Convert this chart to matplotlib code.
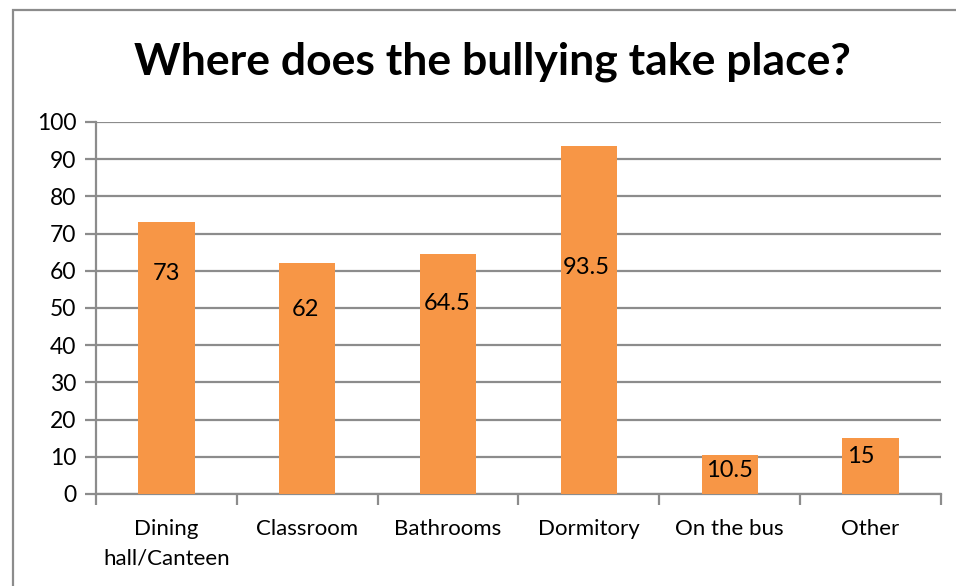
import matplotlib
matplotlib.use("Agg")
import matplotlib.pyplot as plt
from matplotlib.patches import Rectangle

plt.rcParams['font.family'] = ['Lato', 'DejaVu Sans']

categories = ["Dining\nhall/Canteen", "Classroom", "Bathrooms", "Dormitory", "On the bus", "Other"]
values = [73, 62, 64.5, 93.5, 10.5, 15]
value_labels = ["73", "62", "64.5", "93.5", "10.5", "15"]
# where each value label sits (y in data units, x offset from bar centre)
label_y = [59.4, 49.5, 51.3, 60.8, 6.2, 10.0]
label_dx = [0.0, -0.01, -0.01, -0.02, 0.0, -0.07]
yticks = [0, 10, 20, 30, 40, 50, 60, 70, 80, 90, 100]

W, H = 956, 586
fig = plt.figure(figsize=(W / 100, H / 100), dpi=100)

# outer chart frame
fig.patches.append(Rectangle((13 / W, -0.1), 2, 1.1 - 10 / H, transform=fig.transFigure,
                             fill=False, edgecolor='#8c8c8c', linewidth=1.6))

ax = fig.add_axes([96 / W, 1 - 494 / H, (941 - 96) / W, (494 - 122) / H])
x = list(range(len(categories)))
ax.bar(x, values, width=0.4, color='#F79646', zorder=3)

for xi, ly, dx, txt in zip(x, label_y, label_dx, value_labels):
    ax.text(xi + dx, ly, txt, ha='center', va='center', fontsize=17, color='black', zorder=4)

ax.set_xlim(-0.5, len(categories) - 0.5)
ax.set_ylim(0, 100)
ax.set_yticks(yticks)
ax.set_yticklabels([str(t) for t in yticks], fontsize=16.5)
ax.yaxis.grid(True, color='#8c8c8c', linewidth=1.6, zorder=0)
ax.tick_params(axis='y', length=8, width=1.6, color='#8c8c8c', pad=6, direction='out')

ax.set_xticks([i - 0.5 for i in range(len(categories) + 1)])
ax.set_xticklabels([])
ax.set_xticks(x, minor=True)
ax.set_xticklabels(categories, minor=True, fontsize=16, linespacing=1.6)
ax.tick_params(axis='x', which='major', length=8, width=1.6, color='#8c8c8c', direction='out')
ax.tick_params(axis='x', which='minor', length=0, pad=18)

for s in ['top', 'right']:
    ax.spines[s].set_visible(False)
for s in ['left', 'bottom']:
    ax.spines[s].set_color('#8c8c8c')
    ax.spines[s].set_linewidth(1.6)
ax.spines['left'].set_zorder(5)

fig.text(492 / W, 1 - 62 / H, "Where does the bullying take place?", ha='center', va='center',
         fontsize=32, fontweight='bold')

fig.savefig("out.png", dpi=100)
